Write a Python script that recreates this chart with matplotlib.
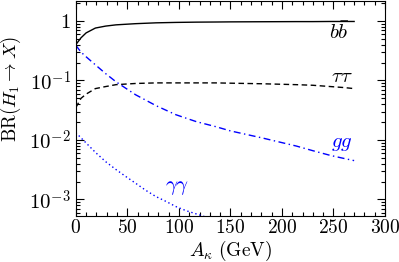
import matplotlib
matplotlib.use("Agg")
import matplotlib.pyplot as plt
from matplotlib.ticker import MultipleLocator, LogLocator, FixedLocator, FixedFormatter

plt.rcParams['mathtext.fontset'] = 'cm'
plt.rcParams['font.family'] = 'serif'
plt.rcParams['font.serif'] = ['DejaVu Serif']

# A_kappa (GeV)
a_k = [0, 5, 10, 19, 29, 39, 58, 78, 97, 117, 136, 150, 181, 214, 230, 247, 260, 270]
br_bb = [0.40, 0.52, 0.63, 0.76, 0.82, 0.86, 0.90, 0.93, 0.945, 0.955, 0.96, 0.965, 0.97, 0.975, 0.975, 0.98, 0.98, 0.98]
br_tautau = [0.035, 0.050, 0.059, 0.073, 0.079, 0.085, 0.089, 0.091, 0.091, 0.091, 0.091, 0.090, 0.088, 0.085, 0.083, 0.079, 0.076, 0.073]
br_gg = [0.39, 0.30, 0.25, 0.183, 0.13, 0.095, 0.0575, 0.0376, 0.0266, 0.0203, 0.0167, 0.0142, 0.0108, 0.0079, 0.0066, 0.0055, 0.0049, 0.0045]

a_k_aa = [0, 9.7, 19.4, 29.1, 38.8, 48.5, 58.3, 68, 77.7, 87.4, 97.1, 106.8, 121.4, 130]
br_aa = [0.0133, 0.0090, 0.0061, 0.0043, 0.0032, 0.00243, 0.00186, 0.00142, 0.00112, 0.00093, 0.00076, 0.00065, 0.00054, 0.00048]

fig = plt.figure(figsize=(3.99, 2.62), dpi=100)
ax = fig.add_axes([0.19, 0.176, 0.775, 0.82])

ax.plot(a_k, br_bb, color='black', lw=1.0, ls='-')
ax.plot(a_k, br_tautau, color='black', lw=1.0, ls=(0, (4, 2.5)))
ax.plot(a_k, br_gg, color='blue', lw=1.0, ls=(0, (5, 2.5, 1, 2.5)))
ax.plot(a_k_aa, br_aa, color='blue', lw=1.0, ls=(0, (1, 2)))

ax.set_yscale('log')
ax.set_xlim(0, 300)
ax.set_ylim(5.3e-4, 2.16)

ax.xaxis.set_major_locator(MultipleLocator(50))
ax.xaxis.set_minor_locator(MultipleLocator(10))
ax.yaxis.set_major_locator(FixedLocator([1e-3, 1e-2, 1e-1, 1]))
ax.yaxis.set_major_formatter(FixedFormatter([r'$10^{-3}$', r'$10^{-2}$', r'$10^{-1}$', r'$1$']))
ax.yaxis.set_minor_locator(LogLocator(base=10, subs=range(2, 10), numticks=20))
ax.yaxis.set_minor_formatter(FixedFormatter([]))

ax.tick_params(which='both', direction='in', top=True, right=True, labelsize=15)
ax.tick_params(which='major', length=6, width=0.8)
ax.tick_params(which='minor', length=3, width=0.8)
ax.tick_params(axis='x', pad=2, labelsize=14)
ax.set_xticks([0, 50, 100, 150, 200, 250, 300])
ax.set_xticklabels([r'$%d$' % v for v in [0, 50, 100, 150, 200, 250, 300]])

ax.set_xlabel(r'$A_\kappa\ (\mathrm{GeV})$', fontsize=14)
ax.xaxis.set_label_coords(0.5, -0.105)
ax.set_ylabel(r'$\mathrm{BR}(H_1\to X)$', fontsize=13.5)
ax.yaxis.set_label_coords(-0.17, 0.59)

ax.text(266, 0.65, r'$b\bar{b}$', fontsize=15, ha='right', va='center')
ax.text(269, 0.118, r'$\tau\tau$', fontsize=15, ha='right', va='center')
ax.text(269, 0.0088, r'$gg$', fontsize=15, ha='right', va='center', color='blue')
ax.text(87, 0.0016, r'$\gamma\gamma$', fontsize=15, ha='left', va='center', color='blue')

fig.savefig('out.png', dpi=100)
